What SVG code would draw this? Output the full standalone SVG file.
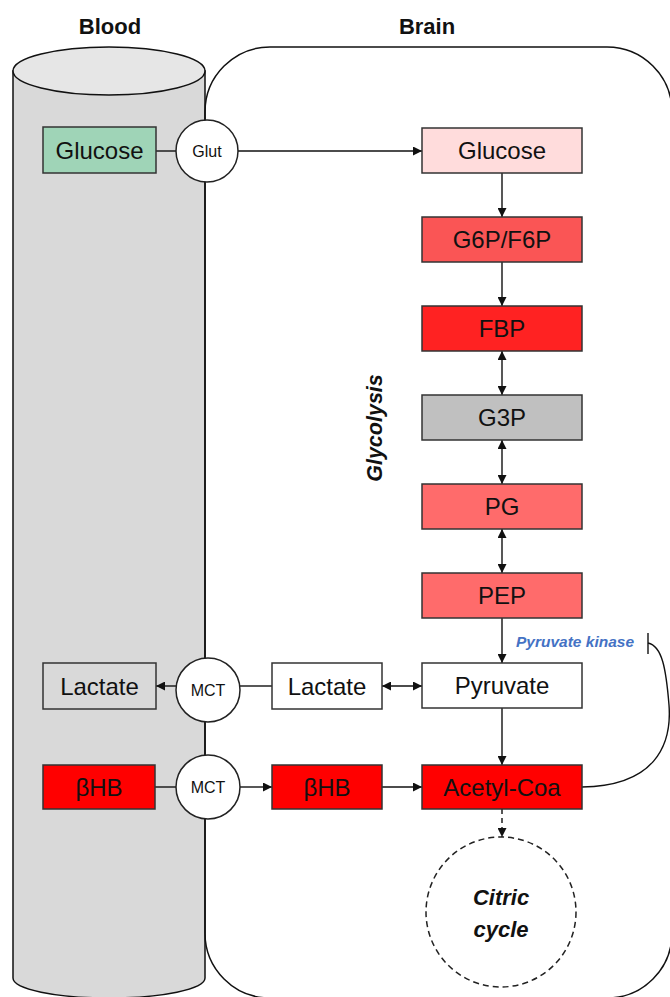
<svg xmlns="http://www.w3.org/2000/svg" width="670" height="997" viewBox="0 0 670 997">
<style>
.t{font-family:"Liberation Sans",Arial,sans-serif;fill:#111}
.title{font-size:22px;font-weight:bold}
.n{font-size:24px;text-anchor:middle}
.s{font-size:16px;text-anchor:middle}
.box{stroke:#333;stroke-width:1.5}
.circ{fill:#fff;stroke:#222;stroke-width:1.5}
.c{stroke:#111;stroke-width:1.4;fill:none}
</style>
<defs>
<marker id="ah" viewBox="0 0 10 10" refX="10" refY="5" markerWidth="9" markerHeight="9" markerUnits="userSpaceOnUse" orient="auto-start-reverse">
<path d="M0,0 L10,5 L0,10 Z" fill="#111"/>
</marker>
</defs>
<rect width="670" height="997" fill="#fff"/>
<g id="titles">
<text class="t title" x="110" y="34" text-anchor="middle">Blood</text>
<text class="t title" x="427" y="34" text-anchor="middle">Brain</text>
</g>
<g id="blood">
<path d="M13,71 L13,978 A96,20 0 0 0 205,978 L205,71 Z" fill="#d9d9d9" stroke="#111" stroke-width="1.5"/>
<ellipse cx="109" cy="71" rx="96" ry="24" fill="#e6e6e6" stroke="#111" stroke-width="1.5"/>
</g>
<g id="brain">
<rect x="205" y="47" width="467" height="951" rx="65" ry="65" fill="none" stroke="#111" stroke-width="1.5"/>
</g>
<g id="connectors">
<line class="c" x1="156" y1="151" x2="176" y2="151"/>
<line class="c" x1="238" y1="151" x2="422" y2="151" marker-end="url(#ah)"/>
<line class="c" x1="502" y1="173" x2="502" y2="217" marker-end="url(#ah)"/>
<line class="c" x1="502" y1="262" x2="502" y2="306" marker-end="url(#ah)"/>
<line class="c" x1="502" y1="351" x2="502" y2="395" marker-start="url(#ah)" marker-end="url(#ah)"/>
<line class="c" x1="502" y1="440" x2="502" y2="484" marker-start="url(#ah)" marker-end="url(#ah)"/>
<line class="c" x1="502" y1="529" x2="502" y2="573" marker-start="url(#ah)" marker-end="url(#ah)"/>
<line class="c" x1="502" y1="618" x2="502" y2="663" marker-end="url(#ah)"/>
<line class="c" x1="502" y1="708" x2="502" y2="765" marker-end="url(#ah)"/>
<line class="c" x1="502" y1="809" x2="502" y2="837" stroke-dasharray="5,4" marker-end="url(#ah)"/>
<line class="c" x1="382" y1="686" x2="422" y2="686" marker-start="url(#ah)" marker-end="url(#ah)"/>
<line class="c" x1="272" y1="686" x2="240" y2="686"/>
<line class="c" x1="176" y1="686" x2="156" y2="686" marker-end="url(#ah)"/>
<line class="c" x1="155" y1="787" x2="176" y2="787"/>
<line class="c" x1="240" y1="787" x2="272" y2="787" marker-end="url(#ah)"/>
<line class="c" x1="382" y1="787" x2="422" y2="787" marker-end="url(#ah)"/>
<path class="c" d="M582,787 C655,786 672,745 669,705 C666,668 662,646 648,643"/>
<line class="c" x1="648" y1="633" x2="648" y2="654"/>
</g>
<g id="glucose-blood">
<rect class="box" x="43" y="127" width="113" height="46" fill="#9fd4b7"/>
<text class="t n" x="99.5" y="158.5">Glucose</text>
</g>
<g id="glut">
<circle class="circ" cx="207" cy="151" r="31"/>
<text class="t s" x="207" y="157">Glut</text>
</g>
<g id="glucose-brain">
<rect class="box" x="422" y="128" width="160" height="45" fill="#ffdcdc"/>
<text class="t n" x="502" y="159">Glucose</text>
</g>
<g id="g6p">
<rect class="box" x="422" y="217" width="160" height="45" fill="#fa5555"/>
<text class="t n" x="502" y="248">G6P/F6P</text>
</g>
<g id="fbp">
<rect class="box" x="422" y="306" width="160" height="45" fill="#ff2222"/>
<text class="t n" x="502" y="337">FBP</text>
</g>
<g id="g3p">
<rect class="box" x="422" y="395" width="160" height="45" fill="#c0c0c0"/>
<text class="t n" x="502" y="426">G3P</text>
</g>
<g id="pg">
<rect class="box" x="422" y="484" width="160" height="45" fill="#ff6b6b"/>
<text class="t n" x="502" y="515">PG</text>
</g>
<g id="pep">
<rect class="box" x="422" y="573" width="160" height="45" fill="#ff6b6b"/>
<text class="t n" x="502" y="604">PEP</text>
</g>
<g id="pyruvate">
<rect class="box" x="422" y="663" width="160" height="45" fill="#fff"/>
<text class="t n" x="502" y="694">Pyruvate</text>
</g>
<g id="acetyl">
<rect class="box" x="422" y="765" width="160" height="44" fill="#ff0000"/>
<text class="t n" x="502" y="796">Acetyl-Coa</text>
</g>
<g id="citric">
<circle cx="501" cy="912" r="75" fill="#fff" stroke="#222" stroke-width="1.5" stroke-dasharray="6,4"/>
<text class="t" x="501" y="905" text-anchor="middle" font-size="22" font-weight="bold" font-style="italic">Citric</text>
<text class="t" x="501" y="937" text-anchor="middle" font-size="22" font-weight="bold" font-style="italic">cycle</text>
</g>
<g id="lactate-blood">
<rect class="box" x="43" y="663" width="113" height="46" fill="#d9d9d9"/>
<text class="t n" x="99.5" y="694.5">Lactate</text>
</g>
<g id="mct1">
<circle class="circ" cx="208" cy="690" r="32"/>
<text class="t s" x="208" y="696">MCT</text>
</g>
<g id="lactate-brain">
<rect class="box" x="272" y="663" width="110" height="46" fill="#fff"/>
<text class="t n" x="327" y="694.5">Lactate</text>
</g>
<g id="bhb-blood">
<rect class="box" x="43" y="765" width="112" height="44" fill="#ff0000"/>
<text class="t n" x="99" y="796">βHB</text>
</g>
<g id="mct2">
<circle class="circ" cx="208" cy="787" r="32"/>
<text class="t s" x="208" y="793">MCT</text>
</g>
<g id="bhb-brain">
<rect class="box" x="272" y="765" width="110" height="44" fill="#ff0000"/>
<text class="t n" x="327" y="796">βHB</text>
</g>
<g id="labels">
<text class="t" x="375" y="428" transform="rotate(-90 375 428)" text-anchor="middle" dominant-baseline="central" font-size="21.5" font-weight="bold" font-style="italic">Glycolysis</text>
<text x="575" y="647" text-anchor="middle" font-family="Liberation Sans,Arial,sans-serif" font-size="15.5" font-weight="bold" font-style="italic" fill="#4472c4">Pyruvate kinase</text>
</g>
</svg>
